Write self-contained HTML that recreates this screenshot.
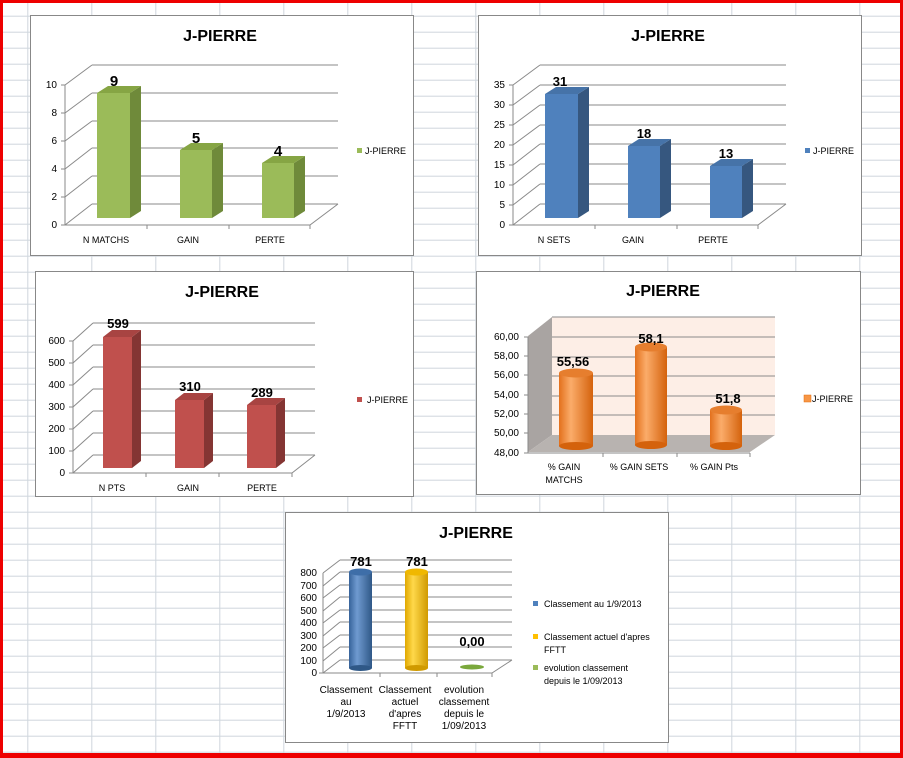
<!DOCTYPE html>
<html><head><meta charset="utf-8"><style>
html,body{margin:0;padding:0;background:#fff}
svg{display:block;font-family:"Liberation Sans",sans-serif}
.t{font-weight:bold;font-size:16px;text-anchor:middle}
.ax{font-size:10px;text-anchor:end}
.cat{font-size:9px;text-anchor:middle}
.v{font-weight:bold;font-size:15px;text-anchor:middle}
.lg{font-size:9px}
.g{stroke:#8a8a8a;stroke-width:1;fill:none}
</style></head><body>
<svg width="903" height="758" viewBox="0 0 903 758" xmlns="http://www.w3.org/2000/svg">
<defs>
<pattern id="grid" x="27.3" y="15.7" width="64" height="16" patternUnits="userSpaceOnUse">
<rect width="64" height="16" fill="#fff"/>
<path d="M0 0.5H64M0.5 0V16" stroke="#cfd6dd" stroke-width="1"/>
</pattern>
<linearGradient id="org" x1="0" x2="1"><stop offset="0" stop-color="#e3701c"/><stop offset="0.35" stop-color="#fbac6a"/><stop offset="1" stop-color="#d4620c"/></linearGradient>
<linearGradient id="blu" x1="0" x2="1"><stop offset="0" stop-color="#36639a"/><stop offset="0.35" stop-color="#6f9ad0"/><stop offset="1" stop-color="#2f5887"/></linearGradient>
<linearGradient id="yel" x1="0" x2="1"><stop offset="0" stop-color="#e0a800"/><stop offset="0.35" stop-color="#ffd84a"/><stop offset="1" stop-color="#d09a00"/></linearGradient>
</defs>
<rect width="903" height="758" fill="url(#grid)"/>
<!-- red border -->
<rect x="0" y="0" width="903" height="3" fill="#e00"/>
<rect x="0" y="0" width="3" height="758" fill="#e00"/>
<rect x="900" y="0" width="3" height="758" fill="#e00"/>
<rect x="0" y="753" width="903" height="5" fill="#e00"/>

<!-- CHART 1 -->
<rect x="30.5" y="15.5" width="383" height="240" fill="#fff" stroke="#888"/>
<text class="t" x="220" y="41">J-PIERRE</text>
<g class="g">
<path d="M92 65H338M92 93H338M92 121H338M92 148H338M92 176H338M92 204H338"/>
<path d="M65 85L92 65M65 113L92 93M65 141L92 121M65 169L92 148M65 197L92 176M65 225L92 204"/>
<path d="M65 85V225H310L338 204M61 85H65M61 113H65M61 141H65M61 169H65M61 197H65M61 225H65M147 225V229M229 225V229M310 225V229"/>
</g>
<g class="ax"><text x="57" y="88">10</text><text x="57" y="116">8</text><text x="57" y="144">6</text><text x="57" y="172">4</text><text x="57" y="200">2</text><text x="57" y="228">0</text></g>
<g>
<rect x="97" y="93" width="33" height="125" fill="#9bbb59"/><polygon points="130,93 141,86 141,211 130,218" fill="#6f8a3a"/><polygon points="97,93 108,86 141,86 130,93" fill="#86a544"/>
<rect x="180" y="150" width="32" height="68" fill="#9bbb59"/><polygon points="212,150 223,143 223,211 212,218" fill="#6f8a3a"/><polygon points="180,150 191,143 223,143 212,150" fill="#86a544"/>
<rect x="262" y="163" width="32" height="55" fill="#9bbb59"/><polygon points="294,163 305,156 305,211 294,218" fill="#6f8a3a"/><polygon points="262,163 273,156 305,156 294,163" fill="#86a544"/>
</g>
<text class="v" x="114" y="86">9</text><text class="v" x="196" y="143">5</text><text class="v" x="278" y="156">4</text>
<text class="cat" x="106" y="243">N MATCHS</text><text class="cat" x="188" y="243">GAIN</text><text class="cat" x="270" y="243">PERTE</text>
<rect x="357" y="148" width="5" height="5" fill="#9bbb59"/><text class="lg" x="365" y="154">J-PIERRE</text>

<!-- CHART 2 -->
<g transform="translate(448,0)">
<rect x="30.5" y="15.5" width="383" height="240" fill="#fff" stroke="#888"/>
<text class="t" x="220" y="41">J-PIERRE</text>
<g class="g">
<path d="M92 65H338M92 85H338M92 105H338M92 125H338M92 144H338M92 164H338M92 184H338M92 204H338"/>
<path d="M65 85L92 65M65 105L92 85M65 125L92 105M65 145L92 125M65 165L92 144M65 185L92 164M65 205L92 184M65 225L92 204"/>
<path d="M65 85V225H310L338 204M61 85H65M61 105H65M61 125H65M61 145H65M61 165H65M61 185H65M61 205H65M61 225H65M147 225V229M229 225V229M310 225V229"/>
</g>
<g class="ax"><text x="57" y="88">35</text><text x="57" y="108">30</text><text x="57" y="128">25</text><text x="57" y="148">20</text><text x="57" y="168">15</text><text x="57" y="188">10</text><text x="57" y="208">5</text><text x="57" y="228">0</text></g>
<g>
<rect x="97" y="94" width="33" height="124" fill="#4f81bd"/><polygon points="130,94 141,87 141,211 130,218" fill="#36577f"/><polygon points="97,94 108,87 141,87 130,94" fill="#4673a8"/>
<rect x="180" y="146" width="32" height="72" fill="#4f81bd"/><polygon points="212,146 223,139 223,211 212,218" fill="#36577f"/><polygon points="180,146 191,139 223,139 212,146" fill="#4673a8"/>
<rect x="262" y="166" width="32" height="52" fill="#4f81bd"/><polygon points="294,166 305,159 305,211 294,218" fill="#36577f"/><polygon points="262,166 273,159 305,159 294,166" fill="#4673a8"/>
</g>
<text class="v" x="112" y="86" style="font-size:13px">31</text><text class="v" x="196" y="138" style="font-size:13px">18</text><text class="v" x="278" y="158" style="font-size:13px">13</text>
<text class="cat" x="106" y="243">N SETS</text><text class="cat" x="185" y="243">GAIN</text><text class="cat" x="265" y="243">PERTE</text>
<rect x="357" y="148" width="5" height="5" fill="#4f81bd"/><text class="lg" x="365" y="154">J-PIERRE</text>
</g>

<!-- CHART 3 -->
<rect x="35.5" y="271.5" width="378" height="225" fill="#fff" stroke="#888"/>
<text class="t" x="222" y="297">J-PIERRE</text>
<g class="g">
<path d="M93 323H315M93 345H315M93 367H315M93 389H315M93 411H315M93 433H315M93 455H315"/>
<path d="M73 341L93 323M73 363L93 345M73 385L93 367M73 407L93 389M73 429L93 411M73 451L93 433M73 473L93 455"/>
<path d="M73 341V473H292L315 455M69 341H73M69 363H73M69 385H73M69 407H73M69 429H73M69 451H73M69 473H73M146 473V477M219 473V477M292 473V477"/>
</g>
<g class="ax"><text x="65" y="344">600</text><text x="65" y="366">500</text><text x="65" y="388">400</text><text x="65" y="410">300</text><text x="65" y="432">200</text><text x="65" y="454">100</text><text x="65" y="476">0</text></g>
<g>
<rect x="103" y="337" width="29" height="131" fill="#c0504d"/><polygon points="132,337 141,330 141,461 132,468" fill="#843533"/><polygon points="103,337 112,330 141,330 132,337" fill="#a84442"/>
<rect x="175" y="400" width="29" height="68" fill="#c0504d"/><polygon points="204,400 213,393 213,461 204,468" fill="#843533"/><polygon points="175,400 184,393 213,393 204,400" fill="#a84442"/>
<rect x="247" y="405" width="29" height="63" fill="#c0504d"/><polygon points="276,405 285,398 285,461 276,468" fill="#843533"/><polygon points="247,405 256,398 285,398 276,405" fill="#a84442"/>
</g>
<text class="v" x="118" y="328" style="font-size:13px">599</text><text class="v" x="190" y="391" style="font-size:13px">310</text><text class="v" x="262" y="397" style="font-size:13px">289</text>
<text class="cat" x="112" y="491">N PTS</text><text class="cat" x="188" y="491">GAIN</text><text class="cat" x="262" y="491">PERTE</text>
<rect x="357" y="397" width="5" height="5" fill="#c0504d"/><text class="lg" x="367" y="403">J-PIERRE</text>

<!-- CHART 4 -->
<rect x="476.5" y="271.5" width="384" height="223" fill="#fff" stroke="#888"/>
<text class="t" x="663" y="296">J-PIERRE</text>
<polygon points="552,317 775,317 775,435 552,435" fill="#fdeee6"/>
<polygon points="528,336 552,317 552,435 528,452" fill="#a9a4a2"/>
<polygon points="528,452 552,435 775,435 750,452" fill="#b8b3b0"/>
<g class="g">
<path d="M552 317H775M552 337H775M552 357H775M552 376H775M552 396H775M552 415H775"/>
<path d="M528 337V453H750M524 337H528M524 356H528M524 375H528M524 395H528M524 414H528M524 433H528M524 453H528M603 453V457M677 453V457M750 453V457"/>
</g>
<g class="ax"><text x="519" y="340">60,00</text><text x="519" y="359">58,00</text><text x="519" y="378">56,00</text><text x="519" y="398">54,00</text><text x="519" y="417">52,00</text><text x="519" y="436">50,00</text><text x="519" y="456">48,00</text></g>
<g>
<rect x="559" y="373" width="34" height="73" fill="url(#org)"/><ellipse cx="576" cy="446" rx="17" ry="4" fill="#d4620c"/><ellipse cx="576" cy="373" rx="17" ry="4.5" fill="#e67e2e"/>
<rect x="635" y="347" width="32" height="98" fill="url(#org)"/><ellipse cx="651" cy="445" rx="16" ry="4" fill="#d4620c"/><ellipse cx="651" cy="347" rx="16" ry="4.5" fill="#e67e2e"/>
<rect x="710" y="410" width="32" height="36" fill="url(#org)"/><ellipse cx="726" cy="446" rx="16" ry="4" fill="#d4620c"/><ellipse cx="726" cy="410" rx="16" ry="4.5" fill="#e67e2e"/>
</g>
<text class="v" x="573" y="366" style="font-size:13px">55,56</text><text class="v" x="651" y="343" style="font-size:13px">58,1</text><text class="v" x="728" y="403" style="font-size:13px">51,8</text>
<text class="cat" x="564" y="470">% GAIN</text><text class="cat" x="564" y="483">MATCHS</text><text class="cat" x="639" y="470">% GAIN SETS</text><text class="cat" x="714" y="470">% GAIN Pts</text>
<rect x="804" y="395" width="7" height="7" fill="#f79646" stroke="#e46c0a" stroke-width="0.5"/><text class="lg" x="812" y="402">J-PIERRE</text>

<!-- CHART 5 -->
<rect x="285.5" y="512.5" width="383" height="230" fill="#fff" stroke="#888"/>
<text class="t" x="476" y="538">J-PIERRE</text>
<g class="g">
<path d="M340 560H512M340 572H512M340 585H512M340 597H512M340 610H512M340 622H512M340 635H512M340 647H512M340 660H512"/>
<path d="M323 573L340 560M323 586L340 572M323 598L340 585M323 611L340 597M323 623L340 610M323 636L340 622M323 648L340 635M323 661L340 647M323 673L340 660"/>
<path d="M323 573V673H492L512 660M319 673H323M380 673V677M437 673V677M492 673V677"/>
</g>
<g class="ax"><text x="317" y="576">800</text><text x="317" y="589">700</text><text x="317" y="601">600</text><text x="317" y="614">500</text><text x="317" y="626">400</text><text x="317" y="639">300</text><text x="317" y="651">200</text><text x="317" y="664">100</text><text x="317" y="676">0</text></g>
<g>
<rect x="349" y="572" width="23" height="96" fill="url(#blu)"/><ellipse cx="360.5" cy="668" rx="11.5" ry="3" fill="#2f5887"/><ellipse cx="360.5" cy="572" rx="11.5" ry="3.5" fill="#3e6ea8"/>
<rect x="405" y="572" width="23" height="96" fill="url(#yel)"/><ellipse cx="416.5" cy="668" rx="11.5" ry="3" fill="#d09a00"/><ellipse cx="416.5" cy="572" rx="11.5" ry="3.5" fill="#f0b800"/>
<ellipse cx="472" cy="667" rx="12" ry="2.5" fill="#7aa83c"/>
</g>
<text class="v" x="361" y="566" style="font-size:13px">781</text><text class="v" x="417" y="566" style="font-size:13px">781</text><text class="v" x="472" y="646" style="font-size:13px">0,00</text>
<g class="cat" style="font-size:10px">
<text x="346" y="693">Classement</text><text x="346" y="705">au</text><text x="346" y="717">1/9/2013</text>
<text x="405" y="693">Classement</text><text x="405" y="705">actuel</text><text x="405" y="717">d'apres</text><text x="405" y="729">FFTT</text>
<text x="464" y="693">evolution</text><text x="464" y="705">classement</text><text x="464" y="717">depuis le</text><text x="464" y="729">1/09/2013</text>
</g>
<g class="lg">
<rect x="533" y="601" width="5" height="5" fill="#4f81bd"/><text x="544" y="607">Classement au 1/9/2013</text>
<rect x="533" y="634" width="5" height="5" fill="#ffc000"/><text x="544" y="640">Classement actuel d'apres</text><text x="544" y="653">FFTT</text>
<rect x="533" y="665" width="5" height="5" fill="#9bbb59"/><text x="544" y="671">evolution classement</text><text x="544" y="684">depuis le 1/09/2013</text>
</g>
</svg>
</body></html>
